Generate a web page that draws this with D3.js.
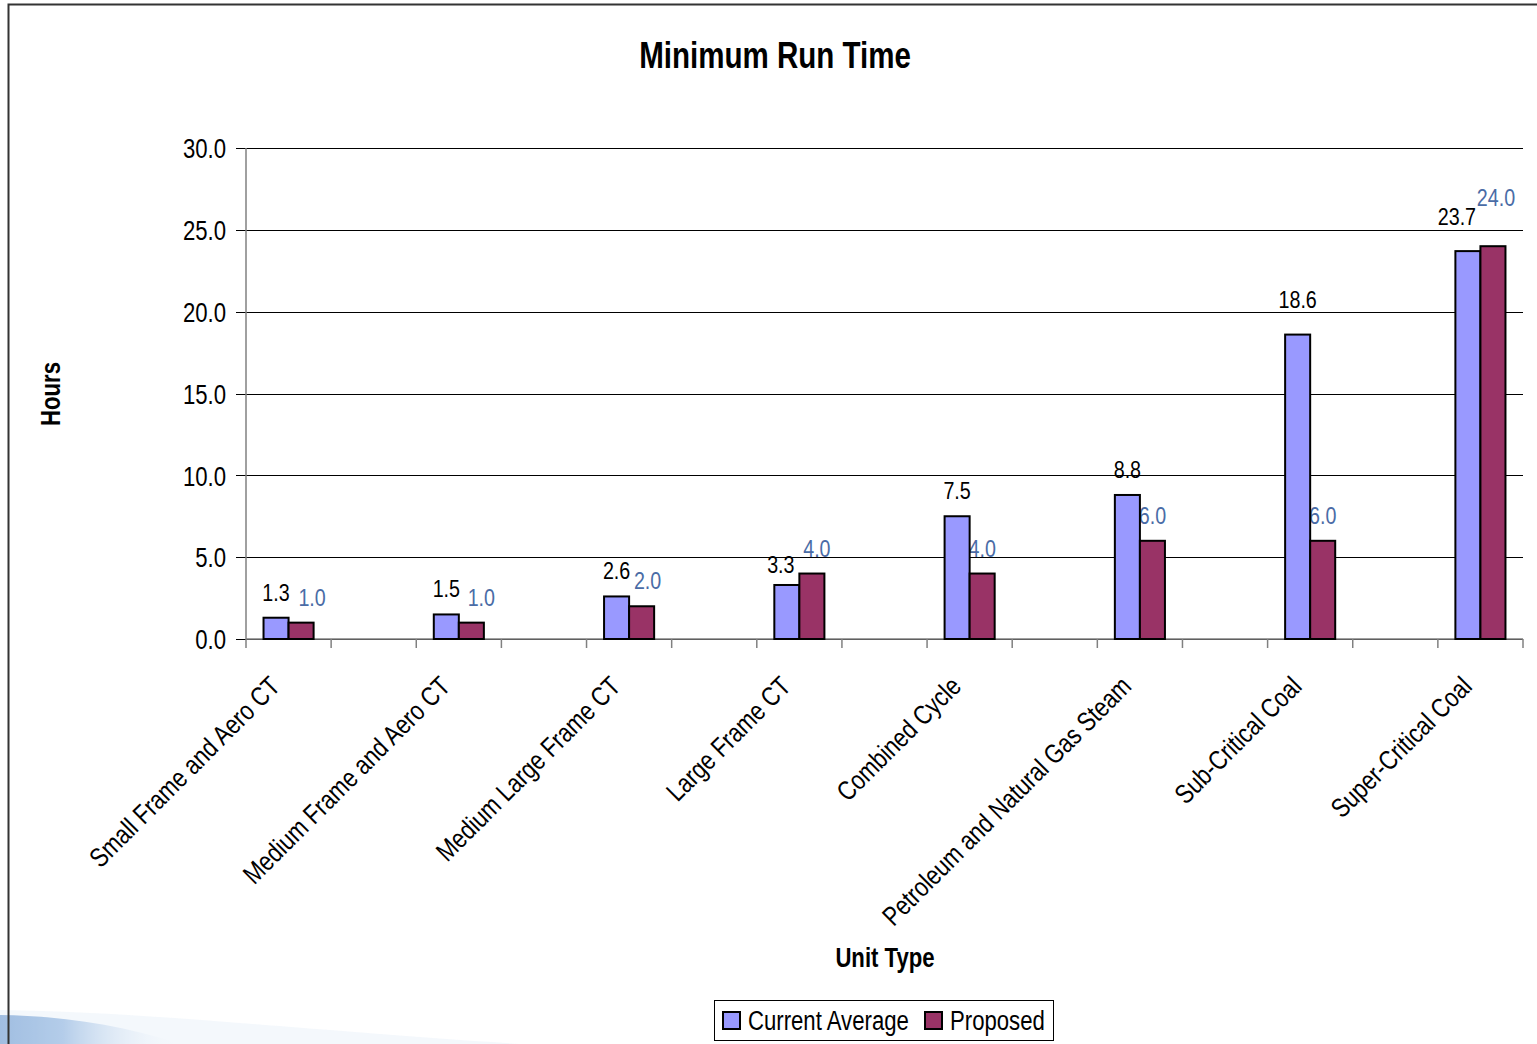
<!DOCTYPE html>
<html>
<head>
<meta charset="utf-8">
<script src="https://cdn.jsdelivr.net/npm/d3@7"></script>
<style>
  html, body { margin: 0; padding: 0; background: #fff; }
  svg { display: block; }
  text { font-family: "Liberation Sans", Arial, sans-serif; }
</style>
</head>
<body>
<svg id="chart" width="1537" height="1044"></svg>
<script>
// Unit types and their minimum run times (hours)
const categories = [
  "Small Frame and Aero CT",
  "Medium Frame and Aero CT",
  "Medium Large Frame CT",
  "Large Frame CT",
  "Combined Cycle",
  "Petroleum and Natural Gas Steam",
  "Sub-Critical Coal",
  "Super-Critical Coal"
];
const currentAverage = [1.3, 1.5, 2.6, 3.3, 7.5, 8.8, 18.6, 23.7];
const proposed       = [1.0, 1.0, 2.0, 4.0, 4.0, 6.0, 6.0, 24.0];
const seriesNames = ["Current Average", "Proposed"];
const yTicks = [0, 5, 10, 15, 20, 25, 30];

// Layout
const plot = { left: 246, right: 1523, top: 148, bottom: 639 };
const colors = { current: "#9999ff", proposed: "#993366", propLabel: "#4a6ca6" };
const NARROW = 0.82; // horizontal squeeze to get a narrow sans face

// Small label nudges so neighbouring value labels do not collide
const curNudge  = [[0,0],[0,0],[0,0],[-6,5],[0,0],[0,0],[0,-10],[-11,-9]];
const propNudge = [[11,0],[10,0],[6,0],[5,0],[0,0],[0,0],[0,0],[3,-23]];

const svg = d3.select("#chart");

// Condense a text selection horizontally along its own baseline
function narrow(sel) {
  sel.each(function () {
    const len = this.getComputedTextLength();
    if (len > 0) {
      d3.select(this).attr("textLength", len * NARROW).attr("lengthAdjust", "spacingAndGlyphs");
    }
  });
  return sel;
}

// Background swoosh in the lower-left corner
const defs = svg.append("defs");
const grad = defs.append("linearGradient").attr("id", "swoosh")
  .attr("x1", "0").attr("y1", "0").attr("x2", "1").attr("y2", "0");
grad.append("stop").attr("offset", "0").attr("stop-color", "#7fa6d6");
grad.append("stop").attr("offset", "0.35").attr("stop-color", "#9dbde3");
grad.append("stop").attr("offset", "1").attr("stop-color", "#ffffff").attr("stop-opacity", 0);
svg.append("path")
  .attr("d", "M0,1015 C60,1016 120,1024 180,1044 L0,1044 Z")
  .attr("fill", "url(#swoosh)");
svg.append("path")
  .attr("d", "M0,1010 C150,1012 300,1030 520,1044 L0,1044 Z")
  .attr("fill", "#dfeaf6").attr("opacity", 0.35);

// Outer chart frame (top and left edges visible)
svg.append("path")
  .attr("d", "M8.5,1044 L8.5,4.5 L1537,4.5")
  .attr("fill", "none").attr("stroke", "#333").attr("stroke-width", 2);

// Scales: each unit type sits in its own band, with an empty band between neighbours
const slots = [];
categories.forEach((c, i) => { slots.push(c); if (i < categories.length - 1) slots.push("gap" + i); });
const x = d3.scaleBand().domain(slots).range([plot.left, plot.right]).padding(0);
const inner = d3.scaleBand().domain(seriesNames).range([0, x.bandwidth()]).paddingInner(0).paddingOuter(0.7);
const y = d3.scaleLinear().domain([0, 30]).range([plot.bottom, plot.top]);

// Horizontal gridlines with y tick labels
const yAxis = d3.axisLeft(y).tickValues(yTicks).tickFormat(d3.format(".1f"))
  .tickSize(-(plot.right - plot.left)).tickPadding(10);
const gy = svg.append("g").attr("transform", `translate(${plot.left},0)`).call(yAxis);
gy.select(".domain").remove();
gy.selectAll(".tick line").attr("stroke", "#000").attr("stroke-width", 1).attr("x1", -10)
  .attr("shape-rendering", "crispEdges");
gy.selectAll(".tick text").attr("font-size", 27).attr("fill", "#000").attr("x", -20).attr("dy", "0.36em")
  .attr("font-family", "Liberation Sans, Arial, sans-serif").call(narrow);

// Value axis line
svg.append("line")
  .attr("x1", plot.left).attr("x2", plot.left).attr("y1", plot.top).attr("y2", plot.bottom)
  .attr("stroke", "#808080").attr("stroke-width", 1.5);

// Category axis with tick marks at every band boundary
const boundaries = slots.map(s => x(s)).concat([plot.right]);
svg.append("line")
  .attr("x1", plot.left).attr("x2", plot.right).attr("y1", plot.bottom).attr("y2", plot.bottom)
  .attr("stroke", "#808080").attr("stroke-width", 1.5);
svg.append("g").selectAll("line").data(boundaries).join("line")
  .attr("x1", d => d).attr("x2", d => d)
  .attr("y1", plot.bottom).attr("y2", plot.bottom + 9)
  .attr("stroke", "#808080").attr("stroke-width", 1.5);

// Category labels, rotated
svg.append("g").selectAll("text").data(categories).join("text")
  .attr("transform", d => `translate(${x(d) + x.bandwidth() / 2 - 7},${plot.bottom + 49}) rotate(-45)`)
  .attr("text-anchor", "end")
  .attr("font-size", 27)
  .attr("fill", "#000")
  .text(d => d)
  .call(narrow);

// Value labels (drawn beneath the bars)
const groups = categories.map((c, i) => ({ c, i, cur: currentAverage[i], prop: proposed[i] }));
const lblG = svg.append("g");
lblG.selectAll("text.cur").data(groups).join("text").attr("class", "cur")
  .attr("x", d => x(d.c) + inner("Current Average") + inner.bandwidth() / 2 + curNudge[d.i][0])
  .attr("y", d => y(d.cur) - 17 + curNudge[d.i][1])
  .attr("text-anchor", "middle").attr("font-size", 24).attr("fill", "#000")
  .text(d => d.cur.toFixed(1))
  .call(narrow);
lblG.selectAll("text.prop").data(groups).join("text").attr("class", "prop")
  .attr("x", d => x(d.c) + inner("Proposed") + inner.bandwidth() / 2 + propNudge[d.i][0])
  .attr("y", d => y(d.prop) - 17 + propNudge[d.i][1])
  .attr("text-anchor", "middle").attr("font-size", 24).attr("fill", colors.propLabel)
  .text(d => d.prop.toFixed(1))
  .call(narrow);

// Bars
const barG = svg.append("g");
barG.selectAll("rect.cur").data(groups).join("rect").attr("class", "cur")
  .attr("x", d => x(d.c) + inner("Current Average"))
  .attr("width", inner.bandwidth())
  .attr("y", d => y(d.cur))
  .attr("height", d => y(0) - y(d.cur))
  .attr("fill", colors.current).attr("stroke", "#000").attr("stroke-width", 2);
barG.selectAll("rect.prop").data(groups).join("rect").attr("class", "prop")
  .attr("x", d => x(d.c) + inner("Proposed"))
  .attr("width", inner.bandwidth())
  .attr("y", d => y(d.prop))
  .attr("height", d => y(0) - y(d.prop))
  .attr("fill", colors.proposed).attr("stroke", "#000").attr("stroke-width", 2);

// Titles
svg.append("text").attr("x", 775).attr("y", 68).attr("text-anchor", "middle")
  .attr("font-size", 36).attr("font-weight", "bold").attr("fill", "#000")
  .text("Minimum Run Time").call(narrow);
svg.append("text").attr("transform", `translate(60,394) rotate(-90)`).attr("text-anchor", "middle")
  .attr("font-size", 27).attr("font-weight", "bold").attr("fill", "#000")
  .text("Hours").call(narrow);
svg.append("text").attr("x", 885).attr("y", 967).attr("text-anchor", "middle")
  .attr("font-size", 27).attr("font-weight", "bold").attr("fill", "#000")
  .text("Unit Type").call(narrow);

// Legend
const legend = svg.append("g");
legend.append("rect").attr("x", 714.5).attr("y", 1000.5).attr("width", 339).attr("height", 40)
  .attr("fill", "#fff").attr("stroke", "#000").attr("stroke-width", 1);
const legendItems = [
  { name: seriesNames[0], color: colors.current, x: 723 },
  { name: seriesNames[1], color: colors.proposed, x: 925 }
];
legend.selectAll("rect.sw").data(legendItems).join("rect").attr("class", "sw")
  .attr("x", d => d.x).attr("y", 1012).attr("width", 17).attr("height", 17)
  .attr("fill", d => d.color).attr("stroke", "#000").attr("stroke-width", 2);
legend.selectAll("text").data(legendItems).join("text")
  .attr("x", d => d.x + 25).attr("y", 1030)
  .attr("font-size", 27).attr("fill", "#000")
  .text(d => d.name)
  .call(narrow);
</script>
</body>
</html>
